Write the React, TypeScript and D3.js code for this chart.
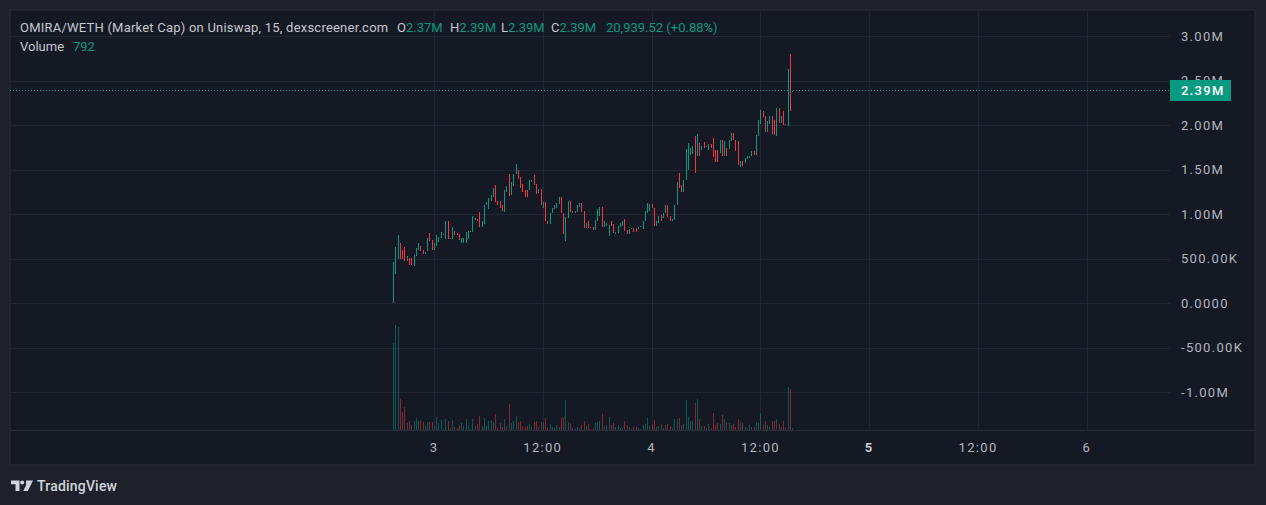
import React from "react";
import * as d3 from "d3";

// OMIRA/WETH market cap, 15m candles (values in millions)
const opens = [
  0.0, 0.33, 0.5, 0.68, 0.6, 0.63, 0.48, 0.51, 0.51, 0.42, 0.53, 0.6, 0.64, 0.6, 0.55, 0.59, 0.79, 0.71, 0.6, 0.64,
  0.69, 0.73, 0.77, 0.72, 0.92, 0.72, 0.72, 0.81, 0.79, 0.78, 0.68, 0.68, 0.68, 0.72, 0.8, 0.8, 0.94, 0.95, 1.03, 0.86,
  0.89, 1.1, 1.06, 1.15, 1.19, 1.33, 1.15, 1.15, 1.1, 1.03, 1.25, 1.45, 1.22, 1.32, 1.45, 1.5, 1.42, 1.34, 1.27, 1.27,
  1.27, 1.36, 1.44, 1.34, 1.24, 1.28, 1.07, 1.14, 0.93, 0.89, 1.01, 1.06, 1.07, 1.12, 1.19, 1.01, 0.7, 0.96, 1.15, 1.04,
  1.02, 1.03, 1.08, 1.13, 1.04, 0.85, 0.93, 0.86, 0.86, 0.82, 0.92, 0.98, 1.08, 0.86, 0.87, 0.76, 0.93, 0.89, 0.78, 0.79,
  0.86, 0.87, 0.95, 0.82, 0.78, 0.84, 0.85, 0.85, 0.84, 0.86, 0.84, 0.92, 1.02, 1.04, 1.12, 1.07, 0.87, 0.9, 0.99, 0.96,
  1.01, 1.1, 0.98, 0.92, 0.94, 1.1, 1.46, 1.33, 1.25, 1.38, 1.5, 1.67, 1.68, 1.88, 1.66, 1.8, 1.72, 1.81, 1.76, 1.72,
  1.79, 1.86, 1.72, 1.72, 1.69, 1.83, 1.66, 1.74, 1.73, 1.82, 1.91, 1.84, 1.82, 1.53, 1.6, 1.58, 1.62, 1.63, 1.65, 1.71,
  1.67, 1.88, 2.02, 2.16, 2.1, 1.93, 2.02, 2.1, 2.06, 1.88, 2.19, 2.03, 2.16, 2.01, 1.99, 2.8, 2.37,
];
const closes = [
  0.46, 0.63, 0.77, 0.5, 0.5, 0.48, 0.53, 0.43, 0.43, 0.54, 0.62, 0.68, 0.59, 0.55, 0.58, 0.73, 0.7, 0.6, 0.68, 0.77,
  0.75, 0.8, 0.78, 0.92, 0.72, 0.73, 0.86, 0.77, 0.77, 0.71, 0.73, 0.73, 0.8, 0.81, 0.81, 0.98, 0.96, 0.92, 0.86, 0.93,
  1.1, 1.14, 1.18, 1.22, 1.29, 1.14, 1.11, 1.07, 1.04, 1.27, 1.32, 1.21, 1.36, 1.45, 1.57, 1.4, 1.3, 1.25, 1.2, 1.2,
  1.38, 1.39, 1.33, 1.23, 1.28, 1.11, 1.14, 0.92, 0.89, 1.02, 1.07, 1.1, 1.13, 1.19, 1.01, 0.78, 0.97, 1.15, 1.03, 1.02,
  1.04, 1.1, 1.13, 1.03, 0.85, 0.9, 0.85, 0.85, 0.82, 0.94, 1.06, 1.08, 0.86, 0.93, 0.9, 0.88, 0.87, 0.79, 0.8, 0.87,
  0.9, 0.92, 0.81, 0.78, 0.84, 0.85, 0.8, 0.8, 0.86, 0.87, 0.93, 1.04, 1.13, 1.12, 1.07, 0.87, 0.92, 0.98, 0.93, 1.02,
  1.11, 0.97, 0.92, 0.95, 1.11, 1.36, 1.3, 1.25, 1.39, 1.73, 1.8, 1.74, 1.77, 1.46, 1.9, 1.66, 1.77, 1.75, 1.77, 1.79,
  1.75, 1.64, 1.59, 1.59, 1.83, 1.66, 1.82, 1.65, 1.84, 1.91, 1.83, 1.71, 1.55, 1.6, 1.54, 1.63, 1.65, 1.66, 1.71, 1.67,
  1.89, 2.06, 2.17, 2.09, 1.92, 2.05, 2.1, 1.9, 1.89, 2.19, 2.03, 2.1, 2.0, 2.0, 2.63, 2.16, 2.39,
];
const volumes = [
  35000, 42000, 41200, 12400, 7200, 9200, 2800, 3600, 2000, 3600, 4800, 3600, 4000, 3200, 1600, 3200, 3200, 3200, 1600, 5200,
  2800, 4000, 400, 4400, 3600, 800, 4000, 1200, 800, 2000, 2800, 1600, 4400, 2000, 400, 4400, 1600, 2400, 5600, 1600,
  4800, 1600, 3600, 4000, 3200, 6400, 800, 2800, 1200, 4400, 1600, 10400, 2800, 3600, 5600, 3200, 3600, 1600, 1200, 1600,
  2400, 1200, 3200, 3600, 1200, 3200, 3200, 4800, 800, 2400, 1200, 800, 2000, 1200, 4800, 5200, 12000, 3200, 2800, 800,
  400, 1200, 800, 2000, 3600, 1600, 2400, 400, 800, 2800, 3200, 3600, 6400, 1600, 2000, 5200, 2000, 2800, 1200, 2000,
  800, 800, 3600, 2000, 1200, 400, 1200, 1200, 800, 400, 2000, 2400, 4800, 1600, 2000, 4000, 1200, 1600, 2400, 800,
  2000, 2400, 1600, 800, 4400, 4400, 4800, 2000, 2400, 12000, 5200, 3600, 3600, 10800, 12400, 4400, 1600, 1600, 800, 2400,
  800, 6800, 2000, 2800, 2400, 6000, 4400, 3200, 2800, 2000, 2400, 1200, 4400, 3600, 2800, 1200, 800, 2000, 1200, 1200,
  3200, 2800, 6800, 2000, 3600, 2000, 1200, 3600, 3600, 4400, 2400, 1200, 3600, 800, 17200, 16400, 792,
];

const priceTicks = [3, 2.5, 2, 1.5, 1, 0.5, 0, -0.5, -1];
const priceTickLabels = ["3.00M", "2.50M", "2.00M", "1.50M", "1.00M", "500.00K", "0.0000", "-500.00K", "-1.00M"];
const timeTicks = ["2025-01-03T00:00Z", "2025-01-03T12:00Z", "2025-01-04T00:00Z", "2025-01-04T12:00Z", "2025-01-05T00:00Z", "2025-01-05T12:00Z", "2025-01-06T00:00Z"];
const timeTickLabels = ["3", "12:00", "4", "12:00", "5", "12:00", "6"];

const FIRST_BAR = Date.parse("2025-01-02T19:30Z");
const STEP = 15 * 60 * 1000;

const W = 1266;
const H = 505;
const UP = "#089981";
const DOWN = "#f23645";
const FONT = "Roboto, 'Trebuchet MS', sans-serif";

export default function App() {
  const left = 10,
    plotRight = 1170,
    paneRight = 1255,
    top = 11,
    plotBottom = 430,
    paneBottom = 465;

  const x = d3
    .scaleUtc()
    .domain([new Date("2025-01-01T01:15Z"), new Date("2025-01-06T09:10Z")])
    .range([left, plotRight]);
  const y = d3.scaleLinear().domain([-1.4236, 3.2843]).range([plotBottom, top]);
  const yVol = d3.scaleLinear().domain([0, 50000]).range([plotBottom, plotBottom - 125]);

  const bars = closes.map((c, i) => ({
    t: new Date(FIRST_BAR + i * STEP),
    o: opens[i],
    c,
    v: volumes[i],
  }));

  const last = bars[bars.length - 1];
  const lastY = Math.round(y(last.c)) - 1;

  return (
    <svg
      width={W}
      height={H}
      style={{ position: "absolute", left: 0, top: 0, display: "block" }}
      fontFamily={FONT}
    >
      <rect width={W} height={H} fill="#1e212b" />
      <rect x={left} y={top - 1} width={paneRight - left} height={paneBottom - top + 1} fill="#151924" stroke="#2a2e39" />

      {/* grid */}
      <g stroke="#222632" strokeWidth={1} shapeRendering="crispEdges">
        {priceTicks.map((v) => (
          <line key={v} x1={left} x2={plotRight} y1={Math.round(y(v)) + 0.5} y2={Math.round(y(v)) + 0.5} />
        ))}
        {timeTicks.map((t) => (
          <line key={t} x1={Math.round(x(new Date(t))) + 0.5} x2={Math.round(x(new Date(t))) + 0.5} y1={top} y2={plotBottom} />
        ))}
      </g>
      <line x1={left} x2={paneRight} y1={plotBottom + 0.5} y2={plotBottom + 0.5} stroke="#2a2e39" />

      {/* volume */}
      <g shapeRendering="crispEdges">
        {bars.map((b, i) => (
          <rect
            key={i}
            x={Math.round(x(b.t))}
            y={yVol(b.v)}
            width={1}
            height={Math.max(1, plotBottom - yVol(b.v))}
            fill={b.c >= b.o ? UP : DOWN}
            fillOpacity={0.5}
          />
        ))}
      </g>

      {/* candles */}
      <g shapeRendering="crispEdges">
        {bars.map((b, i) => {
          const y1 = y(Math.max(b.o, b.c));
          const y2 = y(Math.min(b.o, b.c));
          return (
            <rect
              key={i}
              x={Math.round(x(b.t))}
              y={y1}
              width={1}
              height={Math.max(1, y2 - y1)}
              fill={b.c >= b.o ? UP : DOWN}
            />
          );
        })}
      </g>

      {/* last price line */}
      <line x1={left} x2={plotRight} y1={lastY + 0.5} y2={lastY + 0.5} stroke={UP} strokeDasharray="1 2" />

      {/* price axis */}
      <g fontSize={13} fill="#b2b5be" letterSpacing={1.3}>
        {priceTicks.map((v, i) => (
          <text key={v} x={1181} y={y(v) + 4.5}>
            {priceTickLabels[i]}
          </text>
        ))}
      </g>
      <rect x={1170} y={lastY - 10} width={61} height={21} fill={UP} />
      <text x={1181} y={lastY + 5} fontSize={13} fill="#ffffff" fontWeight={500} letterSpacing={1.3}>
        2.39M
      </text>

      {/* time axis */}
      <g fontSize={13} textAnchor="middle" letterSpacing={1.3}>
        {timeTicks.map((t, i) => (
          <text
            key={t}
            x={x(new Date(t))}
            y={452}
            fontWeight={timeTickLabels[i] === "5" ? 600 : 400}
            fill={timeTickLabels[i] === "5" ? "#d1d4dc" : "#b2b5be"}
          >
            {timeTickLabels[i]}
          </text>
        ))}
      </g>

      {/* legend */}
      <g fontSize={13}>
        <text x={20} y={32} fill="#c5c7ce" letterSpacing={0.22}>
          OMIRA/WETH (Market Cap) on Uniswap, 15, dexscreener.com
        </text>
        <text y={32} fill="#c5c7ce">
          <tspan x={397}>O</tspan>
          <tspan fill={UP}>2.37M</tspan>
          <tspan x={450}>H</tspan>
          <tspan fill={UP}>2.39M</tspan>
          <tspan x={501}>L</tspan>
          <tspan fill={UP}>2.39M</tspan>
          <tspan x={551}>C</tspan>
          <tspan fill={UP}>2.39M</tspan>
          <tspan x={606} fill={UP}>20,939.52 (+0.88%)</tspan>
        </text>
        <text x={20} y={51} fill="#c5c7ce">
          Volume
          <tspan x={73} fill={UP}>792</tspan>
        </text>
      </g>

      {/* footer logo */}
      <g fill="#d1d4dc">
        <path d="M11 480.5 h8.5 v10.5 h-4 v-6.8 h-4.5 z" />
        <circle cx={22.2} cy={482.4} r={2} />
        <path d="M26 480.5 h7 l-5.2 10.5 h-4.6 l3.3 -6.6 h-0.5 z" />
        <text x={37} y={491} fontSize={14} fontWeight={500} letterSpacing={0.2}>
          TradingView
        </text>
      </g>
    </svg>
  );
}
